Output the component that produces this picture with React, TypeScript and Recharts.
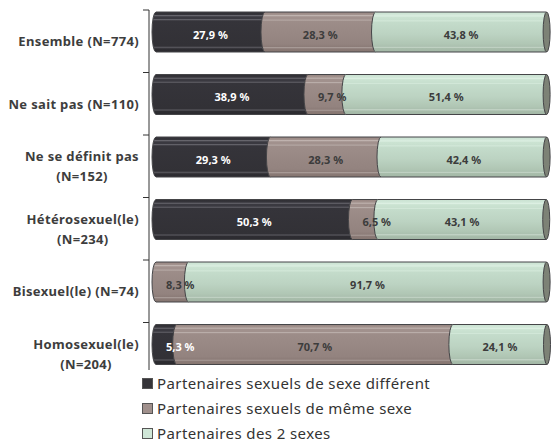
import { Bar, BarChart, LabelList, XAxis, YAxis } from 'recharts'

// Partenaires sexuels selon l'auto-définition (barres empilées 100 %)

const CATEGORY_LINES = [
  ['Ensemble (N=774)'],
  ['Ne sait pas (N=110)'],
  ['Ne se définit pas', '(N=152)'],
  ['Hétérosexuel(le)', '(N=234)'],
  ['Bisexuel(le) (N=74)'],
  ['Homosexuel(le)', '(N=204)'],
]
const SEXE_DIFFERENT = [27.9, 38.9, 29.3, 50.3, 0, 5.3]
const MEME_SEXE = [28.3, 9.7, 28.3, 6.5, 8.3, 70.7]
const DEUX_SEXES = [43.8, 51.4, 42.4, 43.1, 91.7, 24.1]

const SERIES = [
  { key: 'diff', name: 'Partenaires sexuels de sexe différent', grad: 'g-diff', swatch: '#353439', text: '#ffffff' },
  { key: 'meme', name: 'Partenaires sexuels de même sexe', grad: 'g-meme', swatch: '#a0908c', text: '#3c3c3c' },
  { key: 'deux', name: 'Partenaires des 2 sexes', grad: 'g-deux', swatch: '#cfe6d7', text: '#3c3c3c' },
]

const data = CATEGORY_LINES.map((lines, i) => ({
  name: lines.join(' '),
  diff: SEXE_DIFFERENT[i],
  meme: MEME_SEXE[i],
  deux: DEUX_SEXES[i],
}))

const W = 552
const H = 445
const MARGIN = { top: 10, right: 5, bottom: 60, left: 0 }
const PLOT_H = H - MARGIN.top - MARGIN.bottom
const BAND = PLOT_H / data.length
const AXIS_X = 149
const LABEL_RIGHT = 139
const BAR_SHIFT = -9
const FONT = '"Noto Sans", "Open Sans", sans-serif'
const OUTLINE = '#454548'
const CAT_SPACING = 0.35

let ctx: CanvasRenderingContext2D | null = null
function textWidth(text: string, font: string) {
  if (!ctx) ctx = document.createElement('canvas').getContext('2d')
  if (!ctx) return text.length * 7
  ctx.font = font
  return ctx.measureText(text).width
}

const fmt = (v: number) => `${v.toFixed(1).replace('.', ',')} %`

function CategoryTick(props: any) {
  const { y, payload, index } = props
  const lines = CATEGORY_LINES[index] ?? [String(payload.value)]
  const top = y - BAND / 2
  const style = { fontFamily: FONT, fontSize: 13, fontWeight: 700, fill: '#3d3d3d', letterSpacing: CAT_SPACING }
  let label
  if (lines.length === 1) {
    label = (
      <text x={LABEL_RIGHT} y={y} textAnchor="end" dominantBaseline="central" style={style}>
        {lines[0]}
      </text>
    )
  } else {
    const w = textWidth(lines[0], `700 13px ${FONT}`) + lines[0].length * CAT_SPACING
    const cx = LABEL_RIGHT - w / 2
    label = (
      <text textAnchor="middle" style={style}>
        <tspan x={cx} y={y - 10} dominantBaseline="central">{lines[0]}</tspan>
        <tspan x={cx} y={y + 10} dominantBaseline="central">{lines[1]}</tspan>
      </text>
    )
  }
  return (
    <g>
      {index === 0 && (
        <line x1={AXIS_X} x2={AXIS_X} y1={MARGIN.top} y2={MARGIN.top + PLOT_H - 15} stroke="#333" />
      )}
      <line x1={AXIS_X - 6} x2={AXIS_X} y1={top} y2={top} stroke="#333" />
      {label}
    </g>
  )
}

function makeShape(si: number) {
  return (props: any) => {
    const { x, y, width, height, index } = props
    if (!width || width <= 0) return <g />
    const yy = y + BAR_SHIFT
    const rx = 4
    const isLast = si === SERIES.length - 1
    const d = `M${x},${yy} L${x + width},${yy} L${x + width},${yy + height} L${x},${yy + height} A${rx},${height / 2} 0 0 1 ${x},${yy} Z`
    return (
      <g key={`s${si}-${index}`}>
        <path d={d} fill={`url(#${SERIES[si].grad})`} stroke={OUTLINE} strokeWidth={1} />
        {isLast && (
          <ellipse cx={x + width} cy={yy + height / 2} rx={3.5} ry={height / 2} fill="#7d8276" stroke={OUTLINE} />
        )}
      </g>
    )
  }
}

function makeLabel(si: number) {
  return (props: any) => {
    const { x, y, width, height, value } = props
    if (!value) return null
    const text = fmt(Number(value))
    const tw = textWidth(text, `700 11px ${FONT}`)
    const cx = Math.max(x + width / 2, x + 10 + tw / 2)
    return (
      <text
        x={cx}
        y={y + height / 2 + BAR_SHIFT + 2}
        textAnchor="middle"
        dominantBaseline="central"
        style={{ fontFamily: FONT, fontSize: 11, fontWeight: 700, fill: SERIES[si].text }}
      >
        {text}
      </text>
    )
  }
}

function LegendBox() {
  return (
    <div
      style={{
        position: 'absolute',
        left: 142,
        top: 371,
        fontFamily: FONT,
        fontSize: 15,
        letterSpacing: 0.4,
        color: '#333',
        lineHeight: '25px',
      }}
    >
      {SERIES.map((s) => (
        <div key={s.key} style={{ display: 'flex', alignItems: 'center', height: 25 }}>
          <span
            style={{
              width: 9,
              height: 9,
              background: s.swatch,
              border: '1px solid #555',
              marginRight: 4,
              display: 'inline-block',
              flex: 'none',
            }}
          />
          <span style={{ whiteSpace: 'nowrap' }}>{s.name}</span>
        </div>
      ))}
    </div>
  )
}

function Gradients() {
  return (
    <svg width={0} height={0} style={{ position: 'absolute' }}>
      <defs>
        <linearGradient id="g-diff" x1="0" y1="0" x2="0" y2="1">
          <stop offset="0" stopColor="#2f2e33" />
          <stop offset="0.07" stopColor="#36353b" />
          <stop offset="0.09" stopColor="#6d6c73" />
          <stop offset="0.12" stopColor="#3a3940" />
          <stop offset="0.17" stopColor="#3a3940" />
          <stop offset="0.19" stopColor="#67666d" />
          <stop offset="0.22" stopColor="#35343a" />
          <stop offset="0.85" stopColor="#323136" />
          <stop offset="0.89" stopColor="#55545a" />
          <stop offset="0.92" stopColor="#2e2d32" />
          <stop offset="1" stopColor="#2b2a2f" />
        </linearGradient>
        <linearGradient id="g-meme" x1="0" y1="0" x2="0" y2="1">
          <stop offset="0" stopColor="#958480" />
          <stop offset="0.07" stopColor="#a4948f" />
          <stop offset="0.09" stopColor="#c3b7b3" />
          <stop offset="0.12" stopColor="#a1918d" />
          <stop offset="0.18" stopColor="#a1918d" />
          <stop offset="0.2" stopColor="#b9ada9" />
          <stop offset="0.23" stopColor="#9d8d89" />
          <stop offset="0.8" stopColor="#93837f" />
          <stop offset="0.87" stopColor="#8c7c78" />
          <stop offset="0.89" stopColor="#ab9e9a" />
          <stop offset="0.92" stopColor="#8a7a76" />
          <stop offset="1" stopColor="#85756f" />
        </linearGradient>
        <linearGradient id="g-deux" x1="0" y1="0" x2="0" y2="1">
          <stop offset="0" stopColor="#c9e1d1" />
          <stop offset="0.07" stopColor="#d2e8d9" />
          <stop offset="0.1" stopColor="#dcefe2" />
          <stop offset="0.13" stopColor="#cbe3d2" />
          <stop offset="0.2" stopColor="#c8e0cf" />
          <stop offset="0.22" stopColor="#d4e9da" />
          <stop offset="0.25" stopColor="#c4dccb" />
          <stop offset="0.55" stopColor="#bcd3c2" />
          <stop offset="0.8" stopColor="#b0c6b4" />
          <stop offset="0.86" stopColor="#abc0af" />
          <stop offset="0.88" stopColor="#c7d7ca" />
          <stop offset="0.91" stopColor="#a8bdab" />
          <stop offset="1" stopColor="#a3b7a6" />
        </linearGradient>
      </defs>
    </svg>
  )
}

export default function App() {
  return (
    <div style={{ position: 'absolute', left: 0, top: 0, width: W, height: H, background: '#fff' }}>
      <Gradients />
      <BarChart width={W} height={H} data={data} layout="vertical" margin={MARGIN} barSize={40}>
        <XAxis type="number" domain={[0, 100]} hide />
        <YAxis
          type="category"
          dataKey="name"
          width={156}
          axisLine={false}
          tickLine={false}
          interval={0}
          tick={<CategoryTick />}
        />
        {SERIES.map((s, si) => (
          <Bar
            key={s.key}
            dataKey={s.key}
            name={s.name}
            stackId="a"
            fill={s.swatch}
            shape={makeShape(si)}
            isAnimationActive={false}
          >
            <LabelList dataKey={s.key} content={makeLabel(si)} />
          </Bar>
        ))}
      </BarChart>
      <LegendBox />
    </div>
  )
}
